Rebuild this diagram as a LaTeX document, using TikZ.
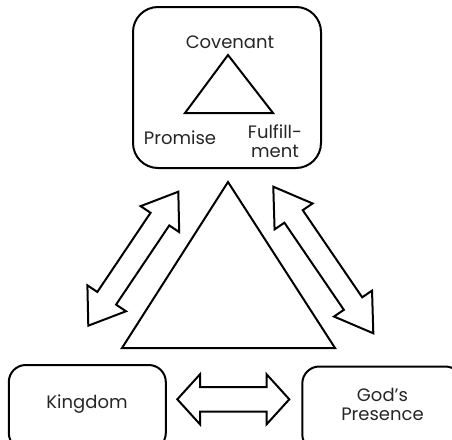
\documentclass[tikz,border=0pt]{standalone}
\usepackage{fontspec}
\setmainfont{Poppins}
\begin{document}
\begin{tikzpicture}[x=1pt,y=-1pt, line width=2pt, line join=miter,
  bigbox/.style={draw, rounded corners=25pt, minimum width=188pt, minimum height=161pt, inner sep=0pt},
  smallbox/.style={draw, rounded corners=17pt, inner sep=0pt},
  lbl/.style={font=\fontsize{18}{19}\selectfont, text=black!85, inner sep=0pt, align=center},
  dblarrow/.style={draw, fill=white}]
\useasboundingbox (0,0) rectangle (452,439);
\clip (0,0) rectangle (452,439);
% boxes
\node[bigbox] (cov) at (227,87.5) {};
\node[smallbox, minimum width=157pt, minimum height=85pt] (king) at (87.3,407.5) {};
\node[smallbox, minimum width=160pt, minimum height=85pt] (pres) at (382.3,409) {};
% labels
\node[lbl, anchor=base] (covt) at (230,48) {Covenant};
\node[lbl, anchor=base] (prom) at (180,144) {Promise};
\node[lbl] (ful) at (275,141) {Fulfill-\\ment};
\node[lbl, anchor=base] (kingt) at (87,408.5) {Kingdom};
\node[lbl] (prest) at (382.5,404) {God’s\\Presence};
% triangles
\coordinate (st) at (228,55);
\coordinate (sl) at (185,113);
\coordinate (sr) at (273,113);
\draw (st) -- (sl) -- (sr) -- cycle;
\coordinate (bt) at (228,182);
\coordinate (bl) at (122,348);
\coordinate (br) at (335,348);
\draw (bt) -- (bl) -- (br) -- cycle;
% double arrows
\newcommand\mydbl[6]{% mid, angle, L, h, W, s
  \begin{scope}[shift={#1}, rotate=#2]
  \draw[dblarrow] (-#3/2,0) -- (-#3/2+#4,#5) -- (-#3/2+#4,#6) -- (#3/2-#4,#6) -- (#3/2-#4,#5) -- (#3/2,0)
    -- (#3/2-#4,-#5) -- (#3/2-#4,-#6) -- (-#3/2+#4,-#6) -- (-#3/2+#4,-#5) -- cycle;
  \end{scope}}
\mydbl{(133.3,258.7)}{56.1}{161.4}{33}{23.25}{11.3}
\mydbl{(323.3,260)}{-55.7}{177.5}{36}{23}{11.1}
\mydbl{(233.3,399.3)}{0}{112}{22.7}{25}{12.2}
\end{tikzpicture}
\end{document}
